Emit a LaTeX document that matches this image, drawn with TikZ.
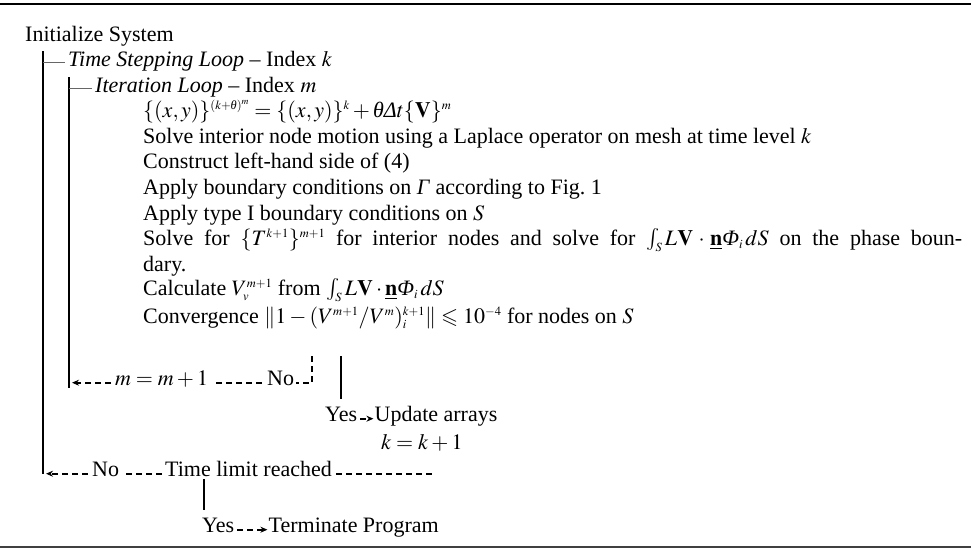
\documentclass[tikz,border=0pt]{standalone}
\usepackage{amsmath}
\usepackage{amssymb}
\usepackage{mathptmx}
\usepackage{fontspec}
\setmainfont{Liberation Serif}
\usepackage{tikz}
\usetikzlibrary{arrows.meta,positioning,calc}

\DeclareMathSizes{22}{22}{12.5}{9.5}
\newcommand{\itgr}[1]{\text{\itshape #1}}

\begin{document}
\begin{tikzpicture}[
    x=1pt, y=-1pt,
    every node/.style={font=\fontsize{22}{26}\selectfont},
    txt/.style={inner sep=0pt, anchor=base west},
    bar/.style={line width=1.4pt},
    tick/.style={line width=0.8pt, black!60},
    flow/.style={line width=1.8pt, dash pattern=on 6pt off 4pt},
    flowarrow/.style={flow, -{Stealth[length=7pt,width=6pt]}}
]
    \useasboundingbox (0,0) rectangle (971,552);
    \draw[line width=2.5pt] (0,4) -- (971,4);
    \draw[line width=2pt, black!75] (0,547) -- (971,547);

    % loop headers
    \node[txt] (init) at (25,41) {Initialize System};
    \node[txt] (tsl) at (68,66) {\textit{Time Stepping Loop} -- Index $k$};
    \node[txt] (itl) at (95,92) {\textit{Iteration Loop} -- Index $m$};

    % body of the iteration loop
    \node[txt] (eq) at (143,117) {$\{(x,y)\}^{(k+\itgr{θ})^m}=\{(x,y)\}^k+\itgr{θ}\itgr{Δ}t\{\mathbf{V}\}^m$};
    \node[txt] (mesh) at (143,143) {Solve interior node motion using a Laplace operator on mesh at time level $k$};
    \node[txt] (lhs) at (143,168) {Construct left-hand side of (4)};
    \node[txt] (bcg) at (143,194) {Apply boundary conditions on \textit{Γ} according to Fig.~1};
    \node[txt] (bcs) at (143,220) {Apply type I boundary conditions on $S$};
    \node[txt] (solt) at (143,245) {\makebox[819pt][s]{Solve for $\{T^{k+1}\}^{m+1}$ for interior nodes and solve for $\int_S L\mathbf{V}\cdot\underline{\mathbf{n}}\itgr{Φ}_i\,dS$ on the phase boun-}};
    \node[txt] (dary) at (143,271) {dary.};
    \node[txt] (calv) at (143,295) {Calculate $V_v^{m+1}$ from $\int_S L\mathbf{V}\cdot\underline{\mathbf{n}}\itgr{Φ}_i\,dS$};
    \node[txt] (conv) at (143,323) {Convergence $\|1-(V^{m+1}/V^m)_i^{k+1}\|\leqslant 10^{-4}$ for nodes on $S$};

    % loop bars
    \coordinate (obtop) at (43,51);
    \coordinate (obbot) at (43,474);
    \coordinate (ibtop) at (69,77);
    \coordinate (ibbot) at (69,388);
    \draw[bar] (obtop) -- (obbot);
    \draw[bar] (ibtop) -- (ibbot);
    \draw[tick, shorten >=3pt] ([yshift=1pt]obtop |- tsl.mid) -- ([yshift=1pt]tsl.mid west);
    \draw[tick, shorten >=3pt] ([yshift=1pt]ibtop |- itl.mid) -- ([yshift=1pt]itl.mid west);

    % convergence test
    \coordinate (convno) at (312,356);
    \coordinate (convyes) at (341,356);
    \node[txt] (mupd) at (115,385) {$m=m+1$};
    \node[txt] (nom) at (267,385) {No};
    \draw[flow, shorten >=2pt] (convno) -- (convno |- nom.mid) -- (nom.mid east);
    \draw[flow, shorten <=5pt, shorten >=4pt] (nom.mid west) -- (mupd.mid east);
    \draw[flowarrow, shorten <=4pt, shorten >=3pt] (mupd.mid west) -- (ibbot |- mupd.mid);

    \node[txt] (yesc) at (325,421) {Yes};
    \node[txt, base right=17pt of yesc] (upd) {Update arrays};
    \node[txt] (kupd) at (381,449) {$k=k+1$};
    \draw[bar, shorten >=7pt] (convyes) -- (convyes |- yesc.north);
    \draw[flowarrow, shorten <=3pt, shorten >=1pt] (yesc.mid east) -- (upd.mid west);

    % time limit test
    \node[txt] (notl) at (92,476) {No};
    \node[txt] (tlim) at (165,476) {Time limit reached};
    \coordinate (tlend) at (433,476);
    \draw[flowarrow, shorten <=4pt, shorten >=3pt] (notl.mid west) -- (obbot |- notl.mid);
    \draw[flow, shorten <=3pt, shorten >=4pt] (tlim.mid west) -- (notl.mid east);
    \draw[flow, shorten <=4pt] (tlim.mid east) -- (tlend |- tlim.mid);

    \node[txt] (yest) at (202,532) {Yes};
    \node[txt, base right=34pt of yest] (term) {Terminate Program};
    \coordinate (tldown) at (204,0);
    \draw[bar, shorten <=3pt, shorten >=7pt] (tlim.south -| tldown) -- (yest.north -| tldown);
    \draw[flowarrow, shorten <=3pt, shorten >=1pt] (yest.mid east) -- (term.mid west);
\end{tikzpicture}
\end{document}
